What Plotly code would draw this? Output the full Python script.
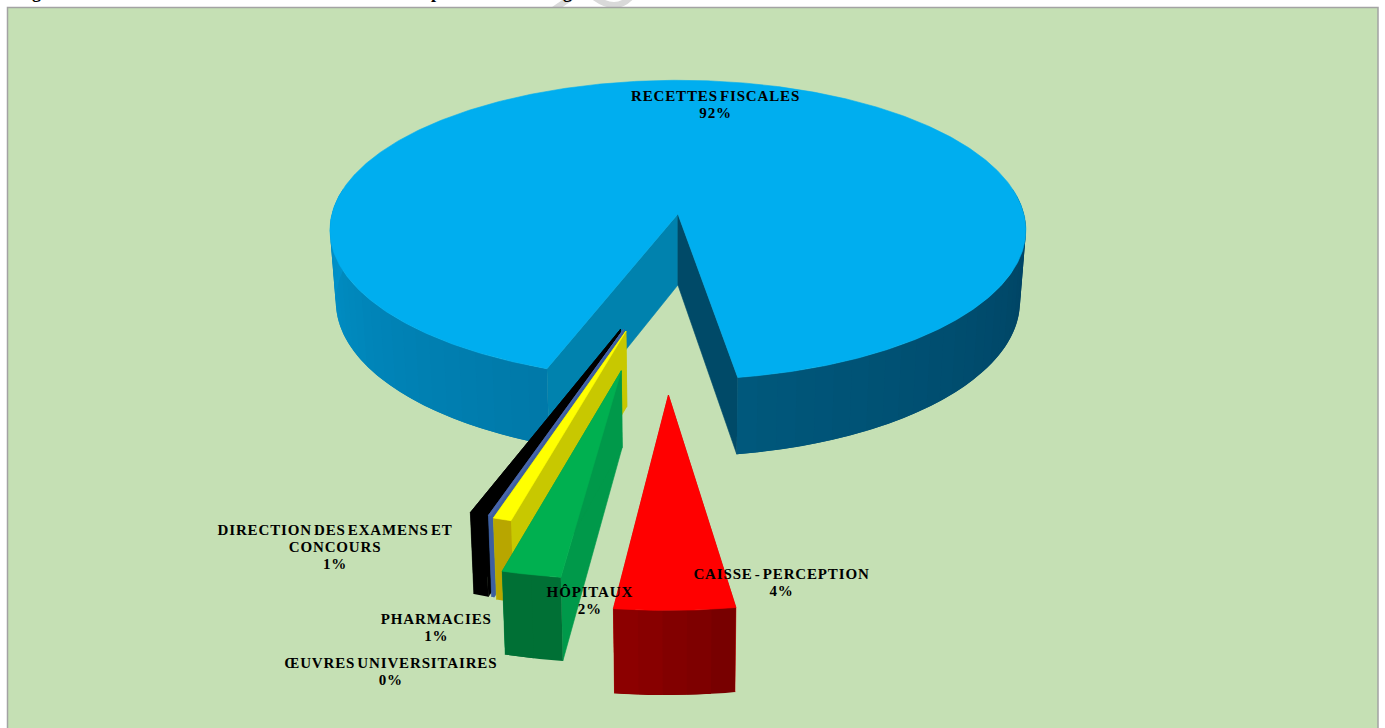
import numpy as np
import plotly.graph_objects as go

# ---- data ----
LABELS = ["RECETTES FISCALES", "CAISSE - PERCEPTION", "HÔPITAUX", "PHARMACIES",
          "ŒUVRES UNIVERSITAIRES", "DIRECTION DES EXAMENS ET<br>CONCOURS"]
VALUES = [92.0, 4.4, 2.2, 0.7, 0.1, 0.6]

# ---- style / layout ----
W, H = 1385, 728
GREEN_BG = "#C5E0B4"
CX, CY = 678.0, 214.0      # screen position of the reference point of the plan
RX, RY = 346.0, 148.0      # plan radius on screen
K = 0.107                  # perspective strength
DEPTH = 71.0               # pie thickness
DEPTH_POWER = 0.7          # how fast thickness grows towards the viewer
BASE_SHRINK = 0.017        # the underside is slightly narrower than the top
FIRST_ANGLE = 19.9         # clockwise from the front, degrees
CENTRE = (-0.0365, 0.376)  # pie centre in plan units
PULLS = [0.378, 0.706, 0.586, 0.368, 0.360, 0.362]
TOPS = ["#00AEEF", "#FF0000", "#00B050", "#FFFF00", "#4A66AC", "#000000"]
CUT_START = ["#0082AE", "#D00000", "#00994A", "#C8C800", "#3D5FA0", "#000000"]
CUT_END = ["#004A68", "#D00000", "#00994A", "#C8C800", "#3D5FA0", "#000000"]
# wall colour bands: (from angle, to angle, colour at from, colour at to)
WALLS = [
    [(None, 100, (0, 120, 168), (0, 148, 204)), (260, None, (0, 63, 94), (0, 88, 124))],
    [(None, None, (118, 0, 0), (143, 0, 0))],
    [(None, None, (0, 112, 53), (0, 112, 53))],
    [(None, None, (184, 166, 0), (184, 166, 0))],
    [(None, None, (61, 95, 160), (61, 95, 160))],
    [(None, None, (0, 0, 0), (0, 0, 0))],
]
LABEL_POS = [(715, 106), (781, 584), (590, 602), (436, 629), (391, 673), (335, 549)]
FONT = dict(family="Liberation Serif", size=15, color="#000000", weight="bold")


def project(u, v, z=0.0):
    s = 1.0 / (1.0 - K * v)
    return (CX + RX * u * s * (1.0 - BASE_SHRINK * z),
            CY + RY * v * s + DEPTH * z * s ** DEPTH_POWER)


def rim(a0, a1, n):
    phi = np.radians(np.linspace(a0, a1, n))
    return -np.sin(phi), np.cos(phi)


def poly(fig, xs, ys, color, name, edge=0.6):
    fig.add_trace(go.Scatter(
        x=np.r_[xs, xs[0]], y=np.r_[ys, ys[0]], mode="lines", fill="toself",
        fillcolor=color, line=dict(color=color, width=edge),
        hoverinfo="skip", showlegend=False, name=name))


def draw_slice(fig, a0, a1, pull, top, cut0, cut1, bands, name):
    mid = np.radians((a0 + a1) / 2)
    au = CENTRE[0] - np.sin(mid) * pull
    av = CENTRE[1] + np.cos(mid) * pull

    def at(us, vs, z=0.0):
        return project(au + us, av + vs, z)

    for ang, col in ((a0, cut0), (a1, cut1)):
        u1, v1 = rim(ang, ang, 1)
        xa, ya = at(0.0, 0.0)
        xb, yb = at(u1[0], v1[0])
        xc, yc = at(u1[0], v1[0], 1.0)
        xd, yd = at(0.0, 0.0, 1.0)
        poly(fig, np.array([xa, xb, xc, xd]), np.array([ya, yb, yc, yd]), col, name)

    for b0, b1, c0, c1 in bands:
        lo = a0 if b0 is None else b0
        hi = a1 if b1 is None else b1
        n = max(2, int((hi - lo) / 3) + 1)
        edges = np.linspace(lo, hi, n)
        for i in range(n - 1):
            t = (i + 0.5) / (n - 1)
            c = tuple(int(round(p + (q - p) * t)) for p, q in zip(c0, c1))
            # each band runs on under the next one, so no seam shows between them
            far = edges[min(i + 2, n - 1)]
            us, vs = rim(edges[i], far, 6)
            xt, yt = at(us, vs)
            xb, yb = at(us, vs, 1.0)
            poly(fig, np.r_[xt, xb[::-1]], np.r_[yt, yb[::-1]], "rgb(%d,%d,%d)" % c, name, edge=0)

    us, vs = rim(a0, a1, max(3, int(a1 - a0) * 2 + 3))
    xt, yt = at(us, vs)
    xa, ya = at(0.0, 0.0)
    poly(fig, np.r_[xa, xt], np.r_[ya, yt], top, name)


fig = go.Figure()

# slice angles come from the values, clockwise from FIRST_ANGLE
sweeps = np.array(VALUES) / sum(VALUES) * 360.0
starts = FIRST_ANGLE + np.r_[0.0, np.cumsum(sweeps)[:-1]]
ends = starts + sweeps
# after the large slice the angles wrap round to the front of the pie
geom = []
for i in range(len(VALUES)):
    a0, a1 = starts[i], ends[i]
    if i > 0:
        a0 -= 360.0
        a1 -= 360.0
    geom.append((a0, a1))

# back to front: large slice, then the thin ones from left to right
for i in [0, 5, 4, 3, 2, 1]:
    draw_slice(fig, geom[i][0], geom[i][1], PULLS[i], TOPS[i], CUT_START[i], CUT_END[i],
               WALLS[i], LABELS[i])

annotations = []
for lab, val, (lx, ly) in zip(LABELS, VALUES, LABEL_POS):
    annotations.append(dict(x=lx, y=ly, xref="x", yref="y", showarrow=False, align="center",
                            text="%s<br>%d%%" % (lab, round(val)), font=FONT,
                            xanchor="center", yanchor="middle"))
# the heading of the source page is cut off: only these descenders are visible
for ch, tx in (("g", 36), ("p", 436), ("g", 567)):
    annotations.append(dict(x=tx, y=3, xref="x", yref="y", showarrow=False, text=ch,
                            font=dict(family="Liberation Serif", size=18, color="#000000", weight="bold"),
                            xanchor="center", yanchor="bottom", borderpad=0))

shapes = [
    dict(type="path", path="M 553 10 L 572 -3", xref="x", yref="y", layer="below",
         line=dict(color="#D9D9D9", width=6)),
    dict(type="path", path="M 590 -6 Q 615 15 632 -4", xref="x", yref="y", layer="below",
         line=dict(color="#D9D9D9", width=6)),
    dict(type="rect", x0=7.5, y0=7.5, x1=1378, y1=760, xref="x", yref="y", layer="below",
         fillcolor=GREEN_BG, line=dict(color="#A3A3A3", width=1.5)),
]

fig.update_layout(
    width=W, height=H, margin=dict(l=0, r=0, t=0, b=0), autosize=False,
    paper_bgcolor="#FFFFFF", plot_bgcolor="#FFFFFF", showlegend=False,
    xaxis=dict(range=[0, W], visible=False, fixedrange=True),
    yaxis=dict(range=[H, 0], visible=False, fixedrange=True),
    shapes=shapes, annotations=annotations,
)

POST = """
document.body.style.margin='0';
document.documentElement.style.overflow='hidden';
document.querySelectorAll('.annotation-text').forEach(function(t){
  if (t.textContent.indexOf('%') < 0) return;
  t.style.letterSpacing='0.85px';
  t.style.wordSpacing='-2.5px';
  t.querySelectorAll('tspan.line').forEach(function(s, i){
    s.setAttribute('dy', (i * 1.13) + 'em');
  });
});
"""
fig.write_html("out.html", config=dict(displayModeBar=False), post_script=POST)
